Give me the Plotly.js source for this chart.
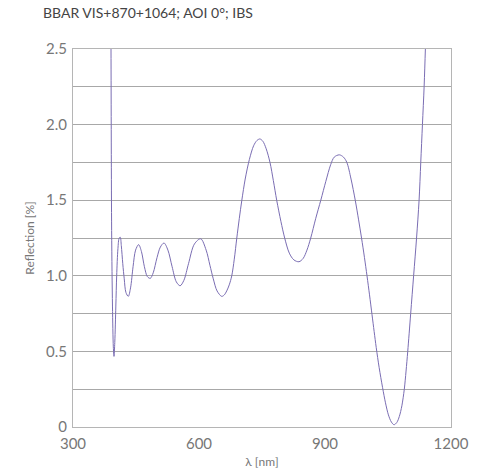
<!DOCTYPE html>
<html>
<head>
<meta charset="utf-8">
<script src="https://cdn.plot.ly/plotly-3.0.1.min.js"></script>
<style>html,body{margin:0;padding:0;background:#fff;}#chart{width:481px;height:475px;}</style>
</head>
<body>
<div id="chart"></div>
<script>
// Wavelength (nm)
const wavelength = [389.5,390.5,392,394,396,397.6,399.5,402,404,407,410,412.5,415,418.5,422,426,431.7,437,443,449,456.3,463,470,477,484,491,500,508,516.7,526,536,546,555,564,575,589,604,617,626,634,643,654,660,666,672,678,684,690,696,702,710,720,730,738,745,752,760,769,777,785,795,804,815,826,838,848,857,866,878,890,902,913.5,922,934,944,952,962,972,980,987,994,1000,1006,1012,1017,1022,1029,1037,1044,1051,1058,1064.3,1071,1077,1083,1088.8,1093,1097,1104,1111,1118,1124,1128,1132,1136,1139,1142];
// Reflection (%)
const reflection = [3.3,2.5,1.3,0.8,0.53,0.467,0.56,0.8,1.0,1.18,1.25,1.255,1.2,1.08,0.98,0.89,0.864,0.92,1.06,1.17,1.206,1.16,1.06,0.995,0.983,1.02,1.12,1.19,1.217,1.17,1.06,0.96,0.934,0.97,1.08,1.21,1.245,1.17,1.07,0.98,0.9,0.864,0.873,0.9,0.94,1.0,1.11,1.25,1.38,1.5,1.64,1.77,1.86,1.895,1.905,1.89,1.84,1.75,1.63,1.5,1.36,1.25,1.15,1.105,1.093,1.115,1.17,1.25,1.38,1.5,1.625,1.735,1.785,1.80,1.785,1.75,1.64,1.5,1.37,1.25,1.12,1.0,0.874,0.742,0.632,0.525,0.392,0.262,0.16,0.08,0.033,0.015,0.03,0.07,0.14,0.25,0.37,0.5,0.75,1.0,1.25,1.5,1.75,2.0,2.25,2.5,2.8];

const xTickVals = [300,600,900,1200];
const xTickText = ['300','600','900','1200'];
const yTickVals = [0,0.25,0.5,0.75,1.0,1.25,1.5,1.75,2.0,2.25,2.5];
const yTickText = ['0','','0.5','','1.0','','1.5','','2.0','','2.5'];

const FONT = 'Lato, "Open Sans", sans-serif';

Plotly.newPlot('chart', [{
  x: wavelength, y: reflection, type: 'scatter', mode: 'lines',
  line: {color: '#7a6db3', width: 1, shape: 'spline', smoothing: 0.9},
  hoverinfo: 'skip'
}], {
  width: 481, height: 475,
  margin: {l: 73, r: 30, t: 49, b: 48},
  paper_bgcolor: '#fff', plot_bgcolor: '#fff',
  showlegend: false,
  title: {text: 'BBAR VIS+870+1064; AOI 0°; IBS', x: 0, xref: 'paper', xanchor: 'left', y: 0.972, yanchor: 'middle',
          font: {family: FONT, size: 14, color: '#444'}, pad: {l: -30}},
  xaxis: {
    range: [300, 1200], tickvals: xTickVals, ticktext: xTickText,
    showgrid: false, zeroline: false, showline: true, mirror: true, linecolor: '#b5b5b5', linewidth: 1,
    ticks: 'outside', ticklen: 3, tickcolor: 'rgba(0,0,0,0)',
    tickfont: {family: FONT, size: 15, color: '#777'},
    title: {text: 'λ [nm]', font: {family: FONT, size: 12, color: '#777'}, standoff: 6}
  },
  yaxis: {
    range: [0, 2.5], tickvals: yTickVals, ticktext: yTickText,
    showgrid: true, gridcolor: '#a8a8a8', gridwidth: 1, zeroline: false,
    showline: true, mirror: true, linecolor: '#b5b5b5', linewidth: 1,
    ticks: 'outside', ticklen: 2, tickcolor: 'rgba(0,0,0,0)',
    tickfont: {family: FONT, size: 15, color: '#777'},
    title: {text: 'Reflection [%]', font: {family: FONT, size: 12, color: '#777'}, standoff: 8}
  }
}, {staticPlot: true, displayModeBar: false});
</script>
</body>
</html>
